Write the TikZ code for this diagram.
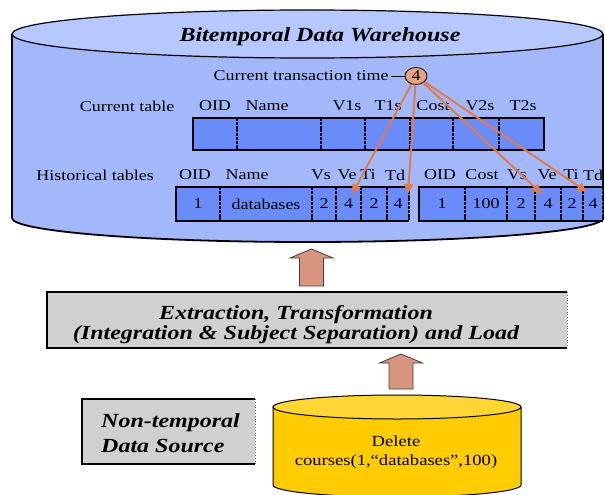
\documentclass[tikz,border=0pt]{standalone}
\usepackage{fontspec}
\setmainfont[FakeStretch=1.2]{Liberation Serif}
\usetikzlibrary{arrows.meta,shapes.geometric}

\definecolor{dwbody}{HTML}{A3B8FA}
\definecolor{dwtop}{HTML}{B6C8FF}
\definecolor{cellblue}{HTML}{6A8CFA}
\definecolor{stamp}{HTML}{E8A282}
\definecolor{linkorange}{HTML}{E07A50}
\definecolor{blockfill}{HTML}{D99580}
\definecolor{etlgray}{HTML}{D0D0D0}
\definecolor{srcbody}{HTML}{FFCC00}
\definecolor{srctop}{HTML}{FFD633}

\begin{document}
\begin{tikzpicture}[x=1pt,y=-1pt,
  txt/.style={font=\fontsize{15}{18}\selectfont, inner sep=0pt},
  bigtxt/.style={font=\fontsize{20}{24}\selectfont\bfseries\itshape, inner sep=0pt},
  cell/.style={fill=cellblue, inner sep=0pt, outer sep=0pt, font=\fontsize{15}{18}\selectfont},
  frame/.style={draw=black, line width=1.2pt},
  divider/.style={draw=black, line width=1.1pt, dash pattern=on 3pt off 0.8pt},
  link/.style={draw=linkorange, line width=2pt, -{Triangle[length=10pt,width=9pt]}},
  blockarrow/.style={fill=blockfill, draw=black!75, line width=0.8pt}
]
\useasboundingbox (0,0) rectangle (605,495);
\fill[white] (0,0) rectangle (605,495);

% ---------- warehouse cylinder ----------
\fill[dwbody] (12,34) rectangle (603,218);
\fill[dwbody] (307.5,218) ellipse [x radius=295.5, y radius=24];
\draw[line width=1.2pt] (12,218) -- (12,34);
\draw[line width=1.2pt] (603,34) -- (603,218);
\draw[line width=1.8pt] (12,218) arc [start angle=180, end angle=0, x radius=295.5, y radius=24];
\filldraw[fill=dwtop, draw=black, line width=1.2pt] (307.5,34) ellipse [x radius=295.5, y radius=24];
\node[bigtxt] (title) at (320,37) {Bitemporal Data Warehouse};

% transaction time stamp
\node[txt, inner sep=2pt] (ctt) at (301,76) {Current transaction time};
\node[ellipse, draw=black, line width=0.8pt, fill=stamp, minimum width=22, minimum height=17, inner sep=0pt, font=\fontsize{15}{18}\selectfont] (c4) at (416,76) {4};
\draw[line width=0.8pt] (ctt.east) -- (c4.west);

% current table
\node[txt] (curlbl) at (127,106) {Current table};
\node[txt] (hc1) at (215,106) {OID};
\node[txt] (hc2) at (267,106) {Name};
\node[txt] (hc3) at (347,106) {V1s};
\node[txt] (hc4) at (388,106) {T1s};
\node[txt] (hc5) at (433,106) {Cost};
\node[txt] (hc6) at (480,106) {V2s};
\node[txt] (hc7) at (523,106) {T2s};
\node[cell, minimum width=44, minimum height=32] (cOID)  at (215,134) {};
\node[cell, minimum width=84, minimum height=32] (cName) at (279,134) {};
\node[cell, minimum width=44, minimum height=32] (cV1s)  at (343,134) {};
\node[cell, minimum width=45, minimum height=32] (cT1s)  at (387.5,134) {};
\node[cell, minimum width=43, minimum height=32] (cCost) at (431.5,134) {};
\node[cell, minimum width=46, minimum height=32] (cV2s)  at (476,134) {};
\node[cell, minimum width=45, minimum height=32] (cT2s)  at (521.5,134) {};
\draw[frame] (193,118) rectangle (544,150);
\foreach \x in {237,321,365,410,453,499}
  \draw[divider] (\x,118) -- (\x,150);

% historical tables
\node[txt] (histlbl) at (95,175) {Historical tables};
\node[txt] (ha1) at (195,175) {OID};
\node[txt] (ha2) at (247,175) {Name};
\node[txt] (ha3) at (321,175) {Vs};
\node[txt] (ha4) at (347,175) {Ve};
\node[txt] (ha5) at (368,175) {Ti};
\node[txt] (ha6) at (395,175) {Td};
\node[txt] (hb1) at (440,175) {OID};
\node[txt] (hb2) at (482,175) {Cost};
\node[txt] (hb3) at (517,175) {Vs};
\node[txt] (hb4) at (547,175) {Ve};
\node[txt] (hb5) at (571,175) {Ti};
\node[txt] (hb6) at (593,175) {Td};

\node[cell, minimum width=44, minimum height=34] (hOID)  at (198,204) {1};
\node[cell, minimum width=92, minimum height=34] (hName) at (266,204) {databases};
\node[cell, minimum width=24, minimum height=34] (hVs)   at (324,204) {2};
\node[cell, minimum width=25, minimum height=34] (hVe)   at (348.5,204) {4};
\node[cell, minimum width=26, minimum height=34] (hTi)   at (374,204) {2};
\node[cell, minimum width=22, minimum height=34] (hTd)   at (398,204) {4};
\draw[frame] (409,187) -- (176,187) -- (176,221) -- (409,221);
\foreach \x in {220,312,336,361,387,409}
  \draw[divider] (\x,187) -- (\x,221);

\node[cell, minimum width=46, minimum height=34] (kOID)  at (442,204) {1};
\node[cell, minimum width=42, minimum height=34] (kCost) at (486,204) {100};
\node[cell, minimum width=28, minimum height=34] (kVs)   at (521,204) {2};
\node[cell, minimum width=26, minimum height=34] (kVe)   at (548,204) {4};
\node[cell, minimum width=22, minimum height=34] (kTi)   at (572,204) {2};
\node[cell, minimum width=20, minimum height=34] (kTd)   at (593,204) {4};
\draw[frame] (603,187) -- (419,187) -- (419,221) -- (603,221);
\foreach \x in {465,507,535,561,583,603}
  \draw[divider] (\x,187) -- (\x,221);

% links from the transaction time to the closed periods
\coordinate (tA) at (352,194);
\coordinate (tB) at (408,194);
\coordinate (tC) at (542,194);
\coordinate (tD) at (587,192);
\draw[link] (c4) -- (tA);
\draw[link] (c4) -- (tB);
\draw[link] (c4) -- (tC);
\draw[link] (c4) -- (tD);

% ---------- ETL layer ----------
\fill[etlgray] (47,292) rectangle (567,348);
\draw[line width=1.2pt] (567,292) -- (47,292) -- (47,348);
\draw[line width=2.2pt] (46,348) -- (567,348);
\draw[black!60, line width=0.8pt, dotted] (567,292) -- (567,348);
\node[bigtxt, align=center, font=\fontsize{20}{20}\selectfont\bfseries\itshape] (etl) at (296,325)
  {Extraction, Transformation\\(Integration \& Subject Separation) and Load};

% block arrows
\draw[blockarrow] (311.5,249) -- (333,258) -- (323.5,258) -- (323.5,286) -- (299.5,286) -- (299.5,258) -- (290,258) -- cycle;
\draw[blockarrow] (401,354) -- (422.5,363) -- (413,363) -- (413,389) -- (389,389) -- (389,363) -- (379.5,363) -- cycle;

% ---------- sources ----------
\fill[etlgray] (82,399) rectangle (255,464);
\draw[line width=1.2pt] (255,399) -- (82,399) -- (82,464);
\draw[line width=2pt] (81,464) -- (255,464);
\draw[black!60, line width=0.8pt, dotted] (255,399) -- (255,464);
\node[bigtxt, align=left, anchor=west, font=\fontsize{20}{25}\selectfont\bfseries\itshape] (nts) at (101,433)
  {Non-temporal\\Data Source};

\fill[srcbody] (273,407) rectangle (521,485);
\fill[srcbody] (397,485) ellipse [x radius=124, y radius=12];
\draw[line width=1pt] (273,407) -- (273,485) arc [start angle=180, end angle=0, x radius=124, y radius=12] -- (521,407);
\filldraw[fill=srctop, draw=black, line width=1pt] (397,407) ellipse [x radius=124, y radius=12];
\node[txt, align=center, font=\fontsize{15.5}{19}\selectfont] (del) at (396,452.5)
  {Delete\\courses(1,“databases”,100)};
\end{tikzpicture}
\end{document}
